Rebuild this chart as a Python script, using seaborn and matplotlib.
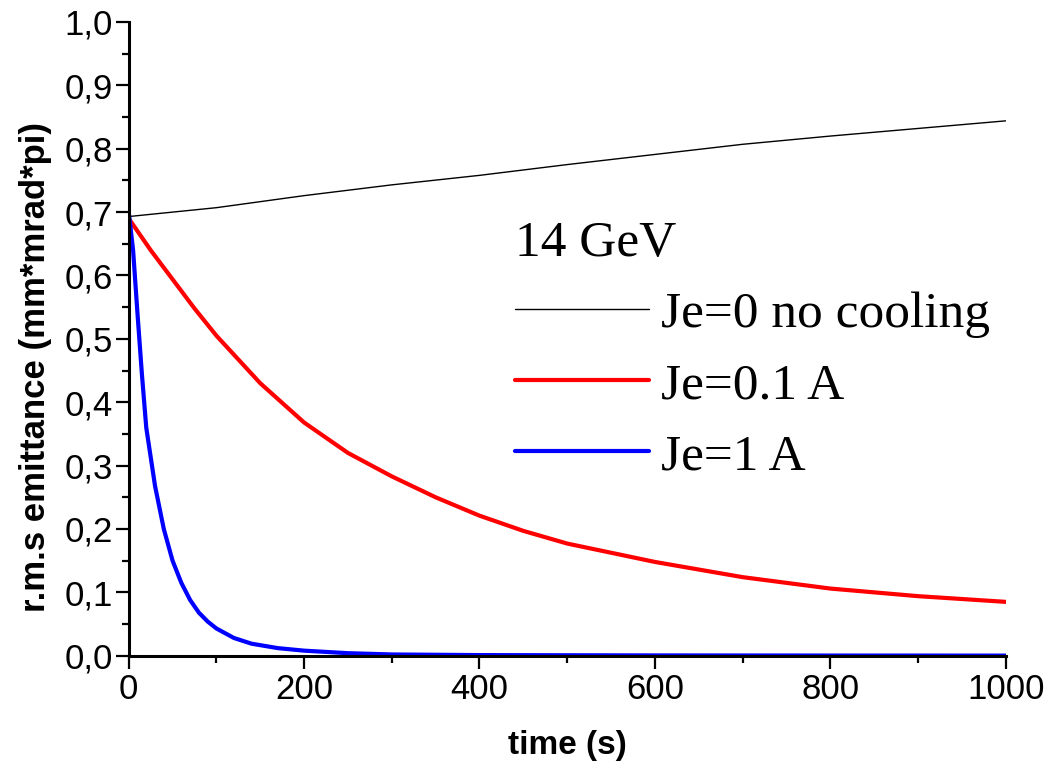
import matplotlib
matplotlib.use("Agg")
import matplotlib.pyplot as plt
from matplotlib.ticker import MultipleLocator, FuncFormatter
import numpy as np
import pandas as pd
import seaborn as sns

# values
t_nocool = [0, 100, 200, 300, 400, 500, 600, 700, 800, 900, 1000]
e_nocool = [0.693, 0.707, 0.726, 0.743, 0.758, 0.775, 0.791, 0.807, 0.820, 0.832, 0.844]

t_01A = [0, 25, 50, 75, 100, 150, 200, 250, 300, 350, 400, 450, 500, 600, 700, 800, 900, 1000]
e_01A = [0.690, 0.640, 0.594, 0.548, 0.505, 0.430, 0.368, 0.320, 0.283, 0.250, 0.221,
         0.197, 0.177, 0.148, 0.124, 0.106, 0.094, 0.085]

t_1A = [0, 5, 10, 15, 20, 30, 40, 50, 60, 70, 80, 90, 100, 120, 140, 170, 200, 250,
        300, 400, 600, 800, 1000]
e_1A = [0.700, 0.640, 0.540, 0.445, 0.360, 0.268, 0.200, 0.150, 0.115, 0.088, 0.068,
        0.054, 0.043, 0.028, 0.019, 0.012, 0.008, 0.004, 0.002, 0.001, 0.0005, 0.0003, 0.0002]

labels = ["Je=0 no cooling", "Je=0.1 A", "Je=1 A"]
legend_title = "14 GeV"

sns.set_style("ticks")
plt.rcParams["font.family"] = ["Liberation Sans", "DejaVu Sans"]
plt.rcParams["text.color"] = "black"
plt.rcParams["axes.labelcolor"] = "black"

fig = plt.figure(figsize=(10.49, 7.69), dpi=100)
ax = fig.add_axes([0.1227, 0.1473, 0.8360, 0.8241])

sns.lineplot(x=t_nocool, y=e_nocool, ax=ax, color="black", linewidth=1.0, label=labels[0])
sns.lineplot(x=t_01A, y=e_01A, ax=ax, color="#ff0000", linewidth=3.0, label=labels[1])
sns.lineplot(x=t_1A, y=e_1A, ax=ax, color="#0000ff", linewidth=3.0, label=labels[2])

ax.set_xlim(0, 1000)
ax.set_ylim(0, 1.0)
ax.xaxis.set_major_locator(MultipleLocator(200))
ax.xaxis.set_minor_locator(MultipleLocator(100))
ax.yaxis.set_major_locator(MultipleLocator(0.1))
ax.yaxis.set_minor_locator(MultipleLocator(0.05))
ax.yaxis.set_major_formatter(FuncFormatter(lambda v, p: f"{v:.1f}".replace(".", ",")))

sns.despine(ax=ax)
for s in ["left", "bottom"]:
    ax.spines[s].set_linewidth(2.2)
    ax.spines[s].set_color("black")
ax.tick_params(which="major", length=9.4, width=1.6, labelsize=25, direction="out",
               color="black", labelcolor="black")
ax.tick_params(which="minor", length=5, width=1.6, direction="out", color="black")
ax.tick_params(axis="y", pad=2)
ax.tick_params(axis="x", pad=3)

ax.set_xlabel("time (s)", fontsize=24, fontweight="bold", labelpad=17)
ax.set_ylabel("r.m.s emittance (mm*mrad*pi)", fontsize=25, fontweight="bold")
ax.yaxis.set_label_coords(-0.088, 0.456)

leg = ax.legend(loc="upper left", bbox_to_anchor=(0.4405, 0.687), frameon=False,
                title=legend_title, alignment="left", borderpad=0, borderaxespad=0,
                handlelength=2.6, handletextpad=0.25, labelspacing=0.47,
                prop={"family": "Liberation Serif", "size": 37})
leg.get_title().set_fontfamily("Liberation Serif")
leg.get_title().set_fontsize(37)
for txt in leg.get_texts():
    txt.set_color("black")

fig.savefig("out.png", dpi=100)
